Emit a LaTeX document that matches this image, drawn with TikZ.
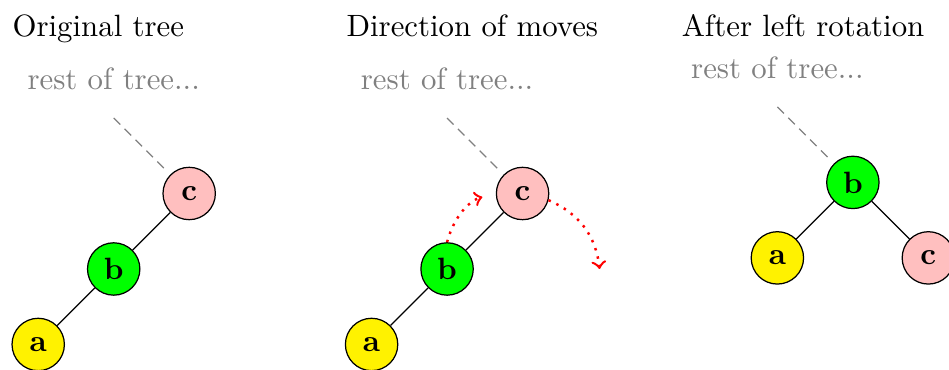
\documentclass[tikz,border=0pt]{standalone}
\usetikzlibrary{positioning}
\begin{document}
\begin{tikzpicture}[
        x=1pt, y=1pt,
        treen/.style={draw, circle, minimum size=17pt, inner sep=0pt, font=\bfseries},
        yellown/.style={treen, fill=yellow},
        greenn/.style={treen, fill=green},
        pinkn/.style={treen, fill=red!25},
        headn/.style={anchor=base west, inner sep=0pt},
        restn/.style={text=gray},
        dashlink/.style={draw=gray, densely dashed, shorten >=1.5pt},
        movearrow/.style={->, red, dotted, thick},
        edge from parent/.style={draw},
        level distance=24.5pt,
        sibling distance=49pt,
    ]
    \useasboundingbox (0,0) rectangle (308,-120);

    % original tree
    \node[headn](head1) at (3.9,-11.9){Original tree};
    \node[pinkn](c1) at (61.4,-62.8){c}
    child{node[greenn](b1){b}
        child{node[yellown](a1){a}}
        child[missing]
    }
    child[missing]
    ;
    \coordinate[on grid, above left=24.5pt and 24.5pt of c1](up1);
    \node[restn, above=5.5pt of up1](rest1){rest of tree...};
    \draw[dashlink] (up1) -- (c1);

    % direction of moves
    \node[headn](head2) at (112.3,-11.9){Direction of moves};
    \node[pinkn](c2) at (169.6,-62.8){c}
    child{node[greenn](b2){b}
        child{node[yellown](a2){a}}
        child[missing]
    }
    child[missing]
    ;
    \coordinate[on grid, above left=24.5pt and 24.5pt of c2](up2);
    \node[restn, above=5.5pt of up2](rest2){rest of tree...};
    \draw[dashlink] (up2) -- (c2);
    \coordinate[on grid, below right=24.5pt and 25pt of c2](cslot);
    \draw[movearrow, shorten >=4.5pt] (b2.north) to[bend left] (c2.west);
    \draw[movearrow] (c2) to[bend left] (cslot);

    % after left rotation
    \node[headn](head3) at (221.1,-11.9){After left rotation};
    \node[greenn](b3) at (276.8,-59.2){b}
    child{node[yellown](a3){a}}
    child{node[pinkn](c3){c}}
    ;
    \coordinate[on grid, above left=24.5pt and 24.5pt of b3](up3);
    \node[restn, above=5.5pt of up3](rest3){rest of tree...};
    \draw[dashlink] (up3) -- (b3);
\end{tikzpicture}
\end{document}
